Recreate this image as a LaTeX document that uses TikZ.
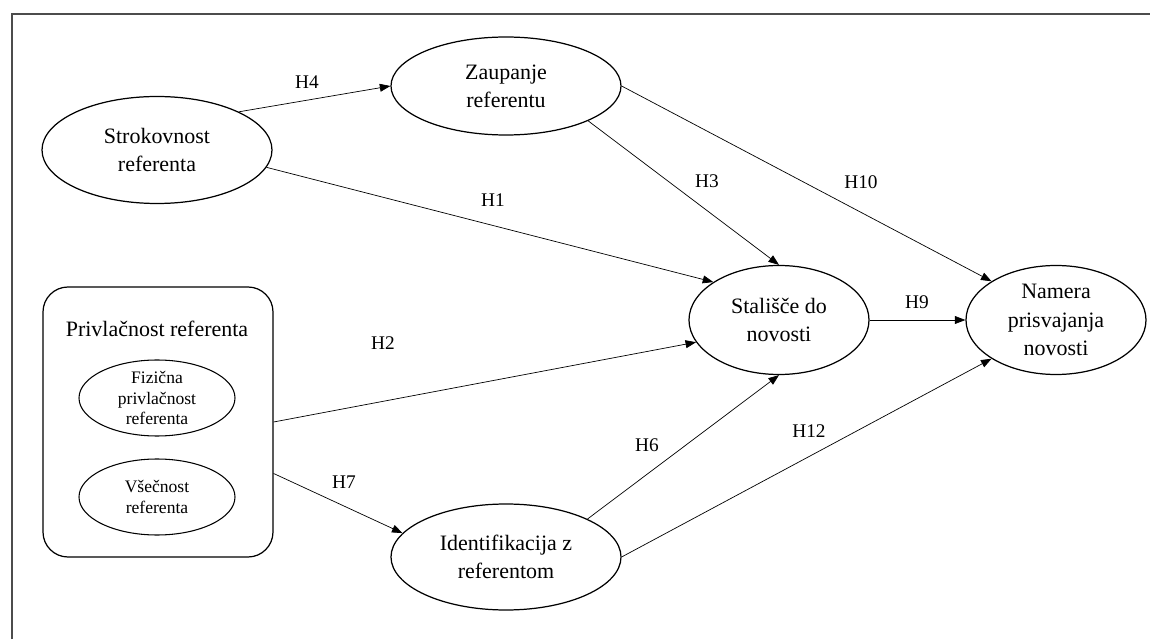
\documentclass[tikz,border=0pt]{standalone}
\usepackage{fontspec}
\setmainfont{Liberation Serif}
\usetikzlibrary{shapes.geometric}
\usetikzlibrary{arrows.meta}

\begin{document}
\begin{tikzpicture}[
  var/.style={draw,ellipse,line width=0.7pt,align=center,inner sep=0pt,font=\fontsize{12.5}{16}\selectfont},
  subvar/.style={draw,ellipse,line width=0.6pt,align=center,inner sep=0pt,minimum width=3.12cm,minimum height=1.52cm,font=\fontsize{10}{11.6}\selectfont},
  hyp/.style={line width=0.4pt,-{Triangle[length=6pt,width=4.5pt]}},
  lbl/.style={font=\fontsize{11}{13}\selectfont,inner sep=1pt}
]

\useasboundingbox (0,0) rectangle (23,12.78);

% frame
\draw[black!70,line width=1pt] (0.24,0)--(0.24,12.5)--(23,12.5);

% constructs
\node[var,minimum width=4.6cm,minimum height=2.14cm] (strok) at (3.14,9.78) {Strokovnost\\referenta};
\node[var,minimum width=4.6cm,minimum height=1.96cm] (zaup) at (10.12,11.06) {Zaupanje\\referentu};
\node[var,minimum width=4.6cm,minimum height=2.12cm] (ident) at (10.12,1.64) {Identifikacija z\\referentom};
\node[var,minimum width=3.6cm,minimum height=2.18cm] (stal) at (15.58,6.38) {Stališče do\\novosti};
\node[var,minimum width=3.6cm,minimum height=2.18cm] (nam) at (21.12,6.38) {Namera\\prisvajanja\\novosti};

\node[draw,rectangle,rounded corners=0.5cm,line width=0.7pt,minimum width=4.6cm,minimum height=5.4cm] (box) at (3.16,4.34) {};
\node[font=\fontsize{12.5}{16}\selectfont,inner sep=0pt] (privl) at (3.14,6.2) {Privlačnost referenta};
\node[subvar] (fiz) at (3.14,4.82) {Fizična\\privlačnost\\referenta};
\node[subvar] (vsec) at (3.14,2.84) {Všečnost\\referenta};

% hypotheses
\draw[hyp] (strok.25)--(zaup.west);
\draw[hyp] (strok.-9)--(stal.150);
\draw[hyp] (zaup.-23)--(stal.north);
\draw[hyp] (zaup.east)--(nam.149);
\draw[hyp] (stal.east)--(nam.west);
\draw[hyp] (box.east)--(stal.195);
\draw[hyp] (box.-24.7)--(ident.167);
\draw[hyp] (ident.25)--(stal.south);
\draw[hyp] (ident.east)--(nam.211);

\node[lbl] (h4) at (6.14,11.14) {H4};
\node[lbl] (h1) at (9.86,8.78) {H1};
\node[lbl] (h3) at (14.14,9.16) {H3};
\node[lbl] (h10) at (17.22,9.14) {H10};
\node[lbl] (h9) at (18.34,6.74) {H9};
\node[lbl] (h2) at (7.66,5.92) {H2};
\node[lbl] (h6) at (12.94,3.88) {H6};
\node[lbl] (h12) at (16.18,4.16) {H12};
\node[lbl] (h7) at (6.88,3.14) {H7};

\end{tikzpicture}
\end{document}
